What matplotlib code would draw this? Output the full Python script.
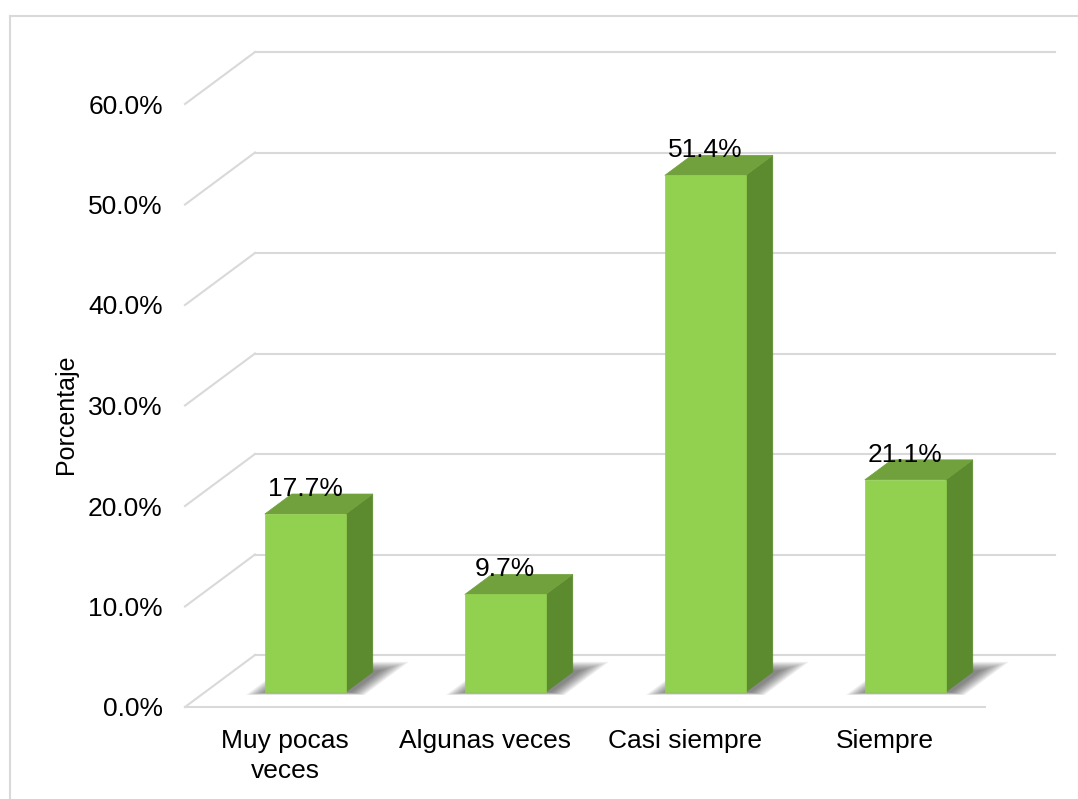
import matplotlib
matplotlib.use("Agg")
import matplotlib.pyplot as plt
from matplotlib.patches import Polygon
from matplotlib.lines import Line2D

plt.rcParams['font.family'] = ['Liberation Sans', 'DejaVu Sans']

# ---- data ----
categories = ["Muy pocas\nveces", "Algunas veces", "Casi siempre", "Siempre"]
values = [17.7, 9.7, 51.4, 21.1]
value_labels = ["17.7%", "9.7%", "51.4%", "21.1%"]
yticks = [0, 10, 20, 30, 40, 50, 60]
ytick_labels = ["0.0%", "10.0%", "20.0%", "30.0%", "40.0%", "50.0%", "60.0%"]
ylabel = "Porcentaje"

# ---- geometry / style ----
W, H = 1078, 799
PXC = 200.0      # pixels per category
PXV = 10.05      # pixels per percent
DX = 70 / PXC    # floor depth offset (category units)
DY = 52 / PXV    # floor depth offset (value units)
F0, F1 = 0.29, 0.675   # bar front/back depth fractions
BW = 0.405
GRID = '#D9D9D9'
C_FRONT = '#92D050'
C_TOP = '#71A13C'
C_SIDE = '#5C8A2E'
FS = 19

fig = plt.figure(figsize=(W / 100, H / 100), dpi=100)
x0, x1 = -0.5, len(categories) - 0.5 + DX
ytop = 60 + DY
ax = fig.add_axes([185 / W, (H - 707) / H, (x1 - x0) * PXC / W, ytop * PXV / H])
ax.set_xlim(x0, x1)
ax.set_ylim(0, ytop)
for s in ax.spines.values():
    s.set_visible(False)


def P(x, v, d):
    return (x + d * DX, v + d * DY)


# walls / gridlines
for v in yticks:
    xs, ys = zip(P(x0, v, 0), P(x0, v, 1))
    ax.plot(xs, ys, color=GRID, lw=1.5, clip_on=False, zorder=1)
    xs, ys = zip(P(x0, v, 1), P(len(categories) - 0.5, v, 1))
    ax.plot(xs, ys, color=GRID, lw=1.5, clip_on=False, zorder=1)
ax.plot([x0, len(categories) - 0.5], [0, 0], color=GRID, lw=1.5, clip_on=False, zorder=1)

# shadows
for i in range(len(categories)):
    cx = i + 0.02
    for k in range(10):
        ex = 0.012 + k * 0.009
        ed = 0.03 + k * 0.018
        xl, xr = cx - BW / 2 - ex, cx + BW / 2 + ex
        d0, d1 = F0 - ed * 0.3, F1 + ed
        poly = [P(xl, 0, d0), P(xr, 0, d0), P(xr, 0, d1), P(xl, 0, d1)]
        ax.add_patch(Polygon(poly, closed=True, facecolor='#202020', edgecolor='none',
                             alpha=0.07, clip_on=False, zorder=2))

# bars
for i, v in enumerate(values):
    xl, xr = i - BW / 2, i + BW / 2
    front = [P(xl, 0, F0), P(xr, 0, F0), P(xr, v, F0), P(xl, v, F0)]
    side = [P(xr, 0, F0), P(xr, 0, F1), P(xr, v, F1), P(xr, v, F0)]
    top = [P(xl, v, F0), P(xr, v, F0), P(xr, v, F1), P(xl, v, F1)]
    for pts, c in ((side, C_SIDE), (top, C_TOP), (front, C_FRONT)):
        ax.add_patch(Polygon(pts, closed=True, facecolor=c, edgecolor=c, lw=0.5,
                             clip_on=False, zorder=3))
    tx, ty = P(i, v, F0)
    ax.text(tx, ty + 25 / PXV, value_labels[i], ha='center', va='center',
            fontsize=FS, color='black', zorder=5)

ax.set_xticks(range(len(categories)))
ax.set_xticklabels(categories, fontsize=FS, linespacing=1.3)
ax.set_yticks(yticks)
ax.set_yticklabels(ytick_labels, fontsize=FS)
ax.tick_params(axis='both', length=0)
ax.tick_params(axis='y', pad=16)
ax.tick_params(axis='x', pad=16)

fig.text(66 / W, 1 - 414 / H, ylabel, rotation=90, ha='center', va='center', fontsize=18)

# outer frame
fig.add_artist(Line2D([9.5 / W, 9.5 / W], [0, 1 - 16 / H], transform=fig.transFigure,
                      color=GRID, lw=1.5))
fig.add_artist(Line2D([9.5 / W, 1], [1 - 16 / H, 1 - 16 / H], transform=fig.transFigure,
                      color=GRID, lw=1.5))

fig.savefig("out.png", dpi=100)
